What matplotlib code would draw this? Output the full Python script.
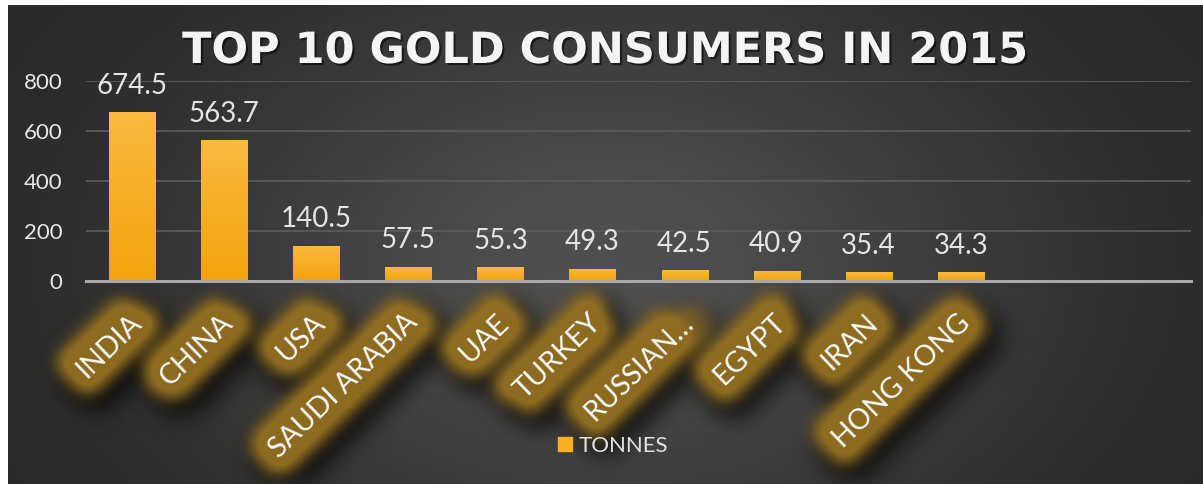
import numpy as np
import matplotlib
matplotlib.use("Agg")
import matplotlib.pyplot as plt
from matplotlib import patheffects as pe
from matplotlib.transforms import ScaledTranslation
from matplotlib.lines import Line2D
from matplotlib.colors import LinearSegmentedColormap

# Top 10 gold consumers, 2015 (tonnes)
countries = ["INDIA", "CHINA", "USA", "SAUDI ARABIA", "UAE",
             "TURKEY", "RUSSIAN\u2026", "EGYPT", "IRAN", "HONG KONG"]
tonnes = [674.5, 563.7, 140.5, 57.5, 55.3, 49.3, 42.5, 40.9, 35.4, 34.3]
y_ticks = [0, 200, 400, 600, 800]
series_name = "TONNES"
title = "TOP 10 GOLD CONSUMERS IN 2015"

FONT = "Lato"
W, H = 1203, 484
AX_RECT = [86 / W, 1 - 281 / H, (1191 - 86) / W, 200 / H]
x = np.arange(len(countries))


def setup_axes(fig, ax):
    ax.set_xlim(-0.5, 11.5)
    ax.set_ylim(0, 800)
    ax.set_yticks(y_ticks)
    ax.set_xticks(x)
    ax.set_xticklabels(countries)
    ax.tick_params(axis="x", length=0, pad=27)
    ax.tick_params(axis="y", length=0, pad=17, labelsize=16,
                   labelcolor="#e8e8e8")
    for lbl in ax.get_yticklabels():
        lbl.set_fontfamily(FONT)
    shift = ScaledTranslation(5 / 100, 0, fig.dpi_scale_trans)
    for lbl in ax.get_xticklabels():
        lbl.set_rotation(44)
        lbl.set_rotation_mode("anchor")
        lbl.set_ha("right")
        lbl.set_va("center")
        lbl.set_fontsize(20.5)
        lbl.set_fontfamily(FONT)
        lbl.set_color("#fafafa")
        lbl.set_transform(lbl.get_transform() + shift)


def gaussian_blur(a, sigma):
    r = int(3 * sigma)
    k = np.exp(-0.5 * (np.arange(-r, r + 1) / sigma) ** 2)
    k /= k.sum()
    a = np.apply_along_axis(lambda m: np.convolve(m, k, mode="same"), 0, a)
    a = np.apply_along_axis(lambda m: np.convolve(m, k, mode="same"), 1, a)
    return a


def shifted(a, dy, dx):
    out = np.zeros_like(a)
    out[dy:, dx:] = a[:a.shape[0] - dy, :a.shape[1] - dx]
    return out


def label_mask(stroke_width):
    """Coverage of the category labels, widened by a round stroke."""
    mfig = plt.figure(figsize=(W / 100, H / 100), dpi=100, facecolor="black")
    max_ = mfig.add_axes(AX_RECT)
    max_.patch.set_visible(False)
    for s in max_.spines.values():
        s.set_visible(False)
    setup_axes(mfig, max_)
    max_.tick_params(axis="y", labelleft=False)
    for lbl in max_.get_xticklabels():
        lbl.set_color("white")
        lbl.set_path_effects([pe.Stroke(linewidth=stroke_width,
                                        foreground="white",
                                        capstyle="round", joinstyle="round"),
                              pe.Normal()])
    mfig.canvas.draw()
    m = np.asarray(mfig.canvas.buffer_rgba())[..., 0].astype(float) / 255
    plt.close(mfig)
    return m


fig = plt.figure(figsize=(W / 100, H / 100), dpi=100, facecolor="white")

# dark panel with a soft radial highlight
bg = fig.add_axes([8 / W, 0, 1 - 8 / W, 1 - 5 / H], zorder=0)
bg.axis("off")
gx, gy = np.meshgrid(np.linspace(0, 1, 600), np.linspace(0, 1, 240))
shade = 0.15 + 0.16 * np.exp(-((gx - 0.5) / 0.36) ** 2 - ((gy - 0.55) / 0.6) ** 2)
bg.imshow(np.dstack([shade] * 3), aspect="auto", extent=(0, 1, 1, 0),
          interpolation="bilinear")
bg.set_xlim(0, 1)
bg.set_ylim(1, 0)

# blurred shadow and golden glow behind the category labels
glow = gaussian_blur(label_mask(24), 7.5)
shadow = gaussian_blur(shifted(label_mask(34), 12, 9), 11.0)
shadow[:, :8] = 0
fx = fig.add_axes([0, 0, 1, 1], zorder=0.5)
fx.axis("off")
sh_rgba = np.zeros((H, W, 4))
sh_rgba[..., 3] = np.clip(shadow * 0.7, 0, 1)
fx.imshow(sh_rgba, extent=(0, 1, 0, 1), aspect="auto", interpolation="none")
gl_rgba = np.zeros((H, W, 4))
gl_rgba[..., :3] = np.array([155, 118, 34]) / 255
gl_rgba[..., 3] = np.clip(glow * 1.1, 0, 0.9)
fx.imshow(gl_rgba, extent=(0, 1, 0, 1), aspect="auto", interpolation="none")
fx.set_xlim(0, 1)
fx.set_ylim(0, 1)

ax = fig.add_axes(AX_RECT, zorder=1)
ax.patch.set_alpha(0)
for s in ("top", "right", "left"):
    ax.spines[s].set_visible(False)
ax.spines["bottom"].set_color("#a8a8a8")
ax.spines["bottom"].set_linewidth(2.2)
ax.spines["bottom"].set_zorder(4)
ax.yaxis.grid(True, color="#5a5a5a", lw=1.3)
ax.set_axisbelow(True)
setup_axes(fig, ax)

# bars with a vertical golden gradient
bars = ax.bar(x, tonnes, width=0.5, color="#f9b025", zorder=2)
gold = LinearSegmentedColormap.from_list("gold", ["#f2a40c", "#fbb93f"])
grad = np.linspace(0, 1, 64).reshape(-1, 1)
for b in bars:
    bx, bw, bh = b.get_x(), b.get_width(), b.get_height()
    im = ax.imshow(grad, cmap=gold, aspect="auto", origin="lower",
                   extent=(bx, bx + bw, 0, bh), zorder=2.5)
    im.set_clip_path(b)
ax.set_xlim(-0.5, 11.5)
ax.set_ylim(0, 800)

for xi, v in zip(x, tonnes):
    ax.annotate(f"{v}", (xi, v), xytext=(0, 19), textcoords="offset points",
                ha="center", va="center", fontsize=20, color="#e4e4e4",
                family=FONT)

fig.legend(handles=[Line2D([], [], marker="s", ls="none", color="#fbb024",
                           markersize=9.5)],
           labels=[series_name], loc="center",
           bbox_to_anchor=(611 / W, 1 - 446 / H), frameon=False,
           handletextpad=0.1, handlelength=1.0,
           labelcolor="#e2e2e2", prop={"family": FONT, "size": 16})

fig.text(605 / W, 1 - 51 / H, title, ha="center", va="center",
         fontsize=31, fontweight="bold", color="#f4f4f4", family="DejaVu Sans",
         zorder=3,
         path_effects=[pe.withSimplePatchShadow(offset=(1.5, -1.5),
                                                shadow_rgbFace="black",
                                                alpha=0.55)])

fig.savefig("out.png", dpi=100, facecolor="white")
